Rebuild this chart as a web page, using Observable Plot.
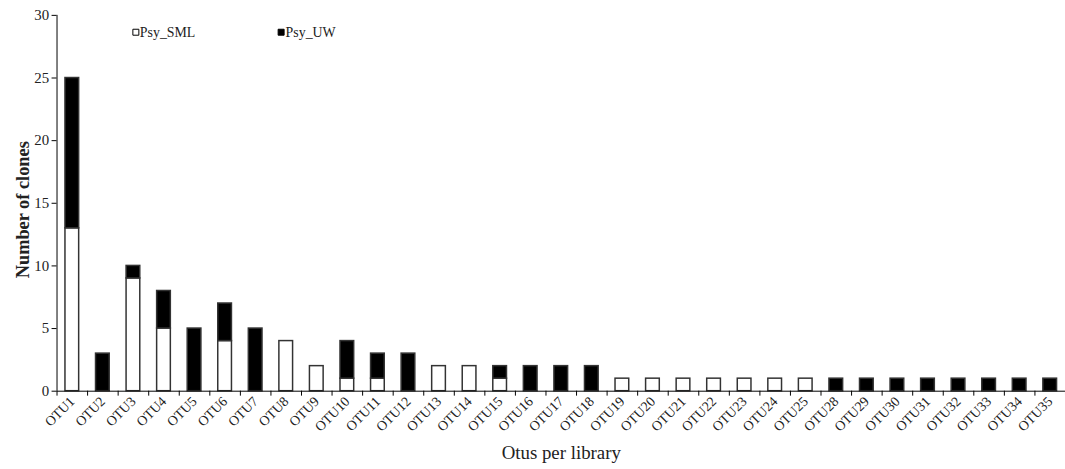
<!DOCTYPE html>
<html><head><meta charset="utf-8">
<script src="https://cdn.jsdelivr.net/npm/d3@7"></script>
<script src="https://cdn.jsdelivr.net/npm/@observablehq/plot@0.6"></script>
<style>
html,body{margin:0;padding:0;background:#fff;overflow:hidden;}
#chart{width:1065px;height:469px;overflow:hidden;}
</style></head><body><div id="chart"></div>
<script>
const categories = ["OTU1","OTU2","OTU3","OTU4","OTU5","OTU6","OTU7","OTU8","OTU9","OTU10","OTU11","OTU12","OTU13","OTU14","OTU15","OTU16","OTU17","OTU18","OTU19","OTU20","OTU21","OTU22","OTU23","OTU24","OTU25","OTU28","OTU29","OTU30","OTU31","OTU32","OTU33","OTU34","OTU35"];
const psySML = [13,0,9,5,0,4,0,4,2,1,1,0,2,2,1,0,0,0,1,1,1,1,1,1,1,0,0,0,0,0,0,0,0];
const psyUW  = [12,3,1,3,5,3,5,0,0,3,2,3,0,0,1,2,2,2,0,0,0,0,0,0,0,1,1,1,1,1,1,1,1];
const seriesNames = ["Psy_SML","Psy_UW"];
const yTicks = [0,5,10,15,20,25,30];
const yTitle = "Number of clones";
const xTitle = "Otus per library";

const rows = [];
categories.forEach((c, i) => {
  if (psySML[i] > 0) rows.push({i, series: seriesNames[0], y1: 0, y2: psySML[i]});
  if (psyUW[i] > 0) rows.push({i, series: seriesNames[1], y1: psySML[i], y2: psySML[i] + psyUW[i]});
});

const font = "'Liberation Serif', 'Times New Roman', serif";
const plot = Plot.plot({
  width: 1074, height: 469,
  marginLeft: 57, marginRight: 0, marginTop: 15, marginBottom: 75,
  style: {fontFamily: font, fontSize: "14px", color: "#222", background: "#fff"},
  x: {domain: [0, categories.length]},
  y: {domain: [0, 30]},
  color: {domain: seriesNames, range: ["#ffffff", "#000000"]},
  marks: [
    Plot.rect(rows, {x1: d => d.i, x2: d => d.i + 1, y1: "y1", y2: "y2", fill: "series",
      stroke: "#333", strokeWidth: 1.5, insetLeft: 8.5, insetRight: 8.5}),
    Plot.axisY({ticks: yTicks, tickSize: 5, tickPadding: 3, label: null, fontSize: 15, stroke: "#000"}),
    Plot.axisX({ticks: d3.range(categories.length + 1), tickSize: 5, tickFormat: () => "", label: null, stroke: "#000"}),
    Plot.axisX({ticks: categories.map((c, i) => i + 0.5), tickSize: 0, tickPadding: 8,
      tickFormat: t => categories[Math.floor(t)], tickRotate: -45, label: null, fontSize: 14}),
    Plot.ruleX([0], {stroke: "#000"}),
    Plot.ruleY([0], {stroke: "#000"}),
    Plot.dot([seriesNames[0]], {frameAnchor: "top-left", dx: 79.5, dy: 17, symbol: "square", r: 3.4, fill: "#fff", stroke: "#000", strokeWidth: 1}),
    Plot.text([seriesNames[0]], {frameAnchor: "top-left", dx: 83.5, dy: 17, textAnchor: "start", lineAnchor: "middle", fontSize: 14, fill: "#222"}),
    Plot.dot([seriesNames[1]], {frameAnchor: "top-left", dx: 226, dy: 17, symbol: "square", r: 3.4, fill: "#000", stroke: "#000", strokeWidth: 1}),
    Plot.text([seriesNames[1]], {frameAnchor: "top-left", dx: 230.5, dy: 17, textAnchor: "start", lineAnchor: "middle", fontSize: 14, fill: "#222"}),
    Plot.text([yTitle], {frameAnchor: "left", rotate: -90, textAnchor: "middle", lineAnchor: "middle", dx: -34, dy: 6.5, fontSize: 18.5, fontWeight: "bold", fill: "#222"}),
    Plot.text([xTitle], {frameAnchor: "bottom", textAnchor: "middle", lineAnchor: "middle", dy: 62, fontSize: 19, fill: "#222"})
  ]
});
document.getElementById("chart").appendChild(plot);
</script></body></html>
